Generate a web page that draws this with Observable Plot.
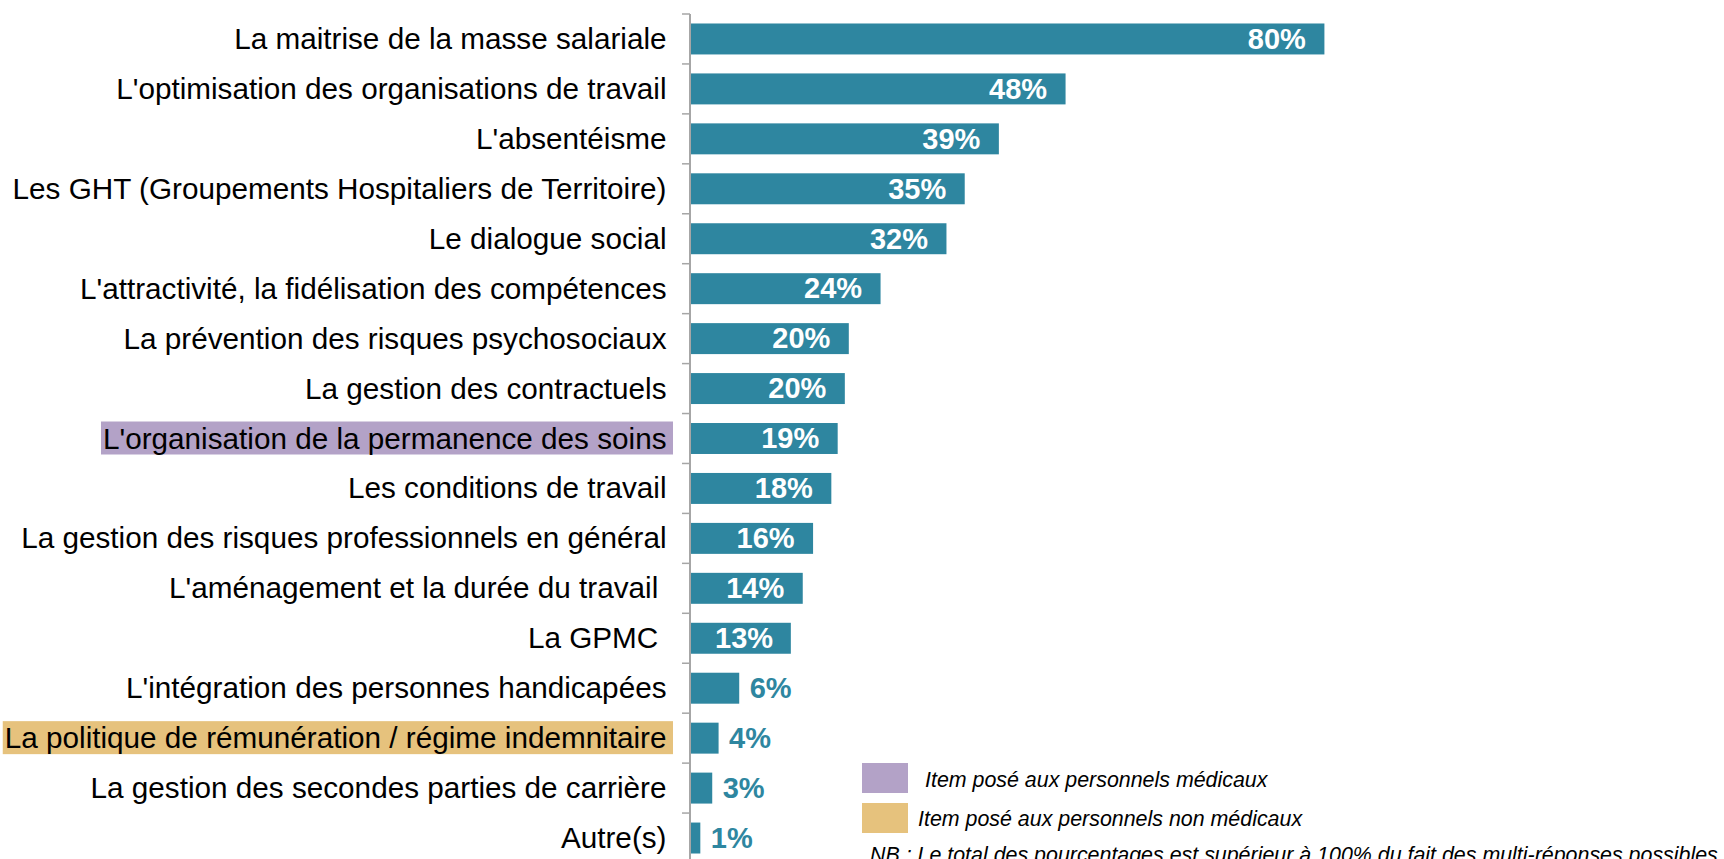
<!DOCTYPE html>
<html><head><meta charset="utf-8">
<script src="https://cdn.jsdelivr.net/npm/d3@7"></script>
<script src="https://cdn.jsdelivr.net/npm/@observablehq/plot@0.6"></script>
<style>
html,body{margin:0;padding:0;background:#fff;overflow:hidden;}
#chart{position:relative;width:1724px;height:859px;overflow:hidden;}
</style></head><body><div id="chart"></div>
<script>
const categories = [
  "La maitrise de la masse salariale",
  "L'optimisation des organisations de travail",
  "L'absentéisme",
  "Les GHT (Groupements Hospitaliers de Territoire)",
  "Le dialogue social",
  "L'attractivité, la fidélisation des compétences",
  "La prévention des risques psychosociaux",
  "La gestion des contractuels",
  "L'organisation de la permanence des soins",
  "Les conditions de travail",
  "La gestion des risques professionnels en général",
  "L'aménagement et la durée du travail ",
  "La GPMC ",
  "L'intégration des personnes handicapées",
  "La politique de rémunération / régime indemnitaire",
  "La gestion des secondes parties de carrière",
  "Autre(s)"
];
const values = [79.9, 47.3, 38.9, 34.6, 32.3, 24.0, 20.0, 19.5, 18.6, 17.8, 15.5, 14.2, 12.7, 6.2, 3.6, 2.8, 1.3];
const valueLabels = ["80%","48%","39%","35%","32%","24%","20%","20%","19%","18%","16%","14%","13%","6%","4%","3%","1%"];
const medicalItems = ["L'organisation de la permanence des soins"];
const nonMedicalItems = ["La politique de rémunération / régime indemnitaire"];
const legendItems = ["Item posé aux personnels médicaux", "Item posé aux personnels non médicaux"];
const legendColors = ["#B3A2C7", "#E6C27D"];
const noteText = "NB : Le total des pourcentages est supérieur à 100% du fait des multi-réponses possibles";
const barColor = "#2E86A0";

const data = categories.map((c, i) => ({cat: c, v: values[i], label: valueLabels[i]}));
const W = 1724, H = 880;
const font = "'Liberation Sans', Arial, sans-serif";

const chart = Plot.plot({
  width: W, height: H,
  marginLeft: 690, marginRight: 240, marginTop: 14, marginBottom: 17,
  x: {domain: [0, 100], axis: null},
  y: {domain: categories, paddingInner: 0.38, paddingOuter: 0.19, round: false, axis: null},
  style: {fontFamily: font, background: "white", overflow: "visible"},
  marks: [
    Plot.barX(data, {x: "v", y: "cat", fill: barColor}),
    Plot.text(data, {x: 0, y: "cat", text: "cat", textAnchor: "end", dx: -24, fontSize: 29.7, fill: "#000", className: "catlabels"}),
    Plot.text(data.filter(d => d.v >= 10), {x: "v", y: "cat", text: "label", textAnchor: "end", dx: -19, fill: "white", fontWeight: "bold", fontSize: 29, className: "inlabels"}),
    Plot.text(data.filter(d => d.v < 10), {x: "v", y: "cat", text: "label", textAnchor: "start", dx: 10, fill: barColor, fontWeight: "bold", fontSize: 29})
  ]
});
document.getElementById("chart").appendChild(chart);

const svg = d3.select(chart);
const ys = chart.scale("y"), xs = chart.scale("x");
const x0 = xs.apply(0);
const gap = ys.step - ys.bandwidth;
const bounds = categories.map(c => ys.apply(c) - gap / 2);
bounds.push(bounds[bounds.length - 1] + ys.step);

// highlight boxes behind labels
const catG = svg.select("g.catlabels");
catG.selectAll("text").each(function() {
  const t = this.textContent;
  let col = null;
  if (medicalItems.includes(t)) col = legendColors[0];
  if (nonMedicalItems.includes(t)) col = legendColors[1];
  if (!col) return;
  const bb = this.getBBox();
  const ctm = this.getCTM();
  const left = Math.max(0, bb.x + (ctm ? ctm.e : 0) - 2);
  const top = bb.y + (ctm ? ctm.f : 0);
  svg.insert("rect", "g.catlabels")
    .attr("x", left).attr("y", top)
    .attr("width", (x0 - 17) - left).attr("height", bb.height)
    .attr("fill", col);
});

// keep inside labels off the bar start
svg.select("g.inlabels").selectAll("text").each(function() {
  const bb = this.getBBox();
  const ctm = this.getCTM();
  const left = bb.x + (ctm ? ctm.e : 0);
  if (left < x0 + 25) {
    const shift = x0 + 25 - left;
    const tr = d3.select(this).attr("transform") || "";
    d3.select(this).attr("transform", tr + ` translate(${shift},0)`);
  }
});

// axis line and ticks at band boundaries
const axisG = svg.append("g").attr("stroke", "#A6A6A6");
axisG.append("line").attr("stroke-width", 2).attr("x1", x0).attr("x2", x0).attr("y1", bounds[0]).attr("y2", H);
axisG.selectAll("line.tk").data(bounds).join("line").attr("class", "tk").attr("stroke-width", 1.5)
  .attr("x1", x0 - 8).attr("x2", x0).attr("y1", d => d).attr("y2", d => d);

// legend
const lg = svg.append("g").attr("font-family", font).attr("font-style", "italic").attr("font-size", 21.4)
  .attr("fill", "#000").attr("text-anchor", "start");
const legendPos = [{sx: 862, sy: 763, tx: 925, ty: 787}, {sx: 862, sy: 803, tx: 918, ty: 826}];
legendItems.forEach((t, i) => {
  const p = legendPos[i];
  lg.append("rect").attr("x", p.sx).attr("y", p.sy).attr("width", 46).attr("height", 30).attr("fill", legendColors[i]);
  lg.append("text").attr("x", p.tx).attr("y", p.ty).text(t);
});
lg.append("text").attr("x", 870).attr("y", 862).text(noteText);
</script>
</body></html>
